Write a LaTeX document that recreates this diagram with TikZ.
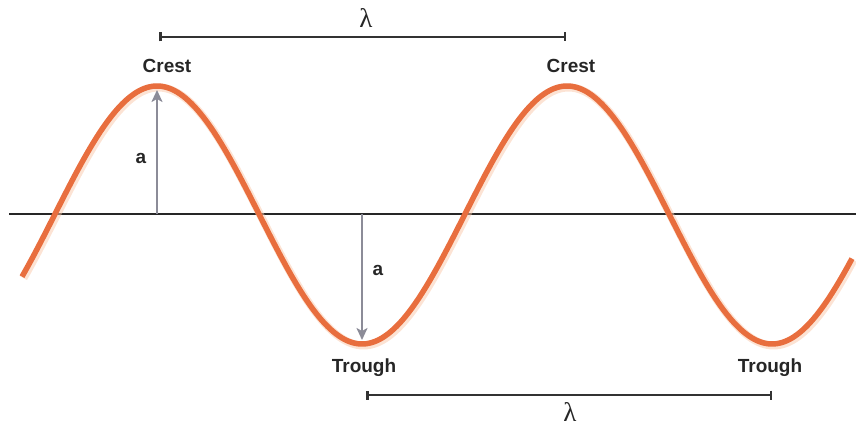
\documentclass[tikz,border=0pt]{standalone}
\usepackage{fontspec}
\setmainfont{Liberation Sans}
\newfontfamily\lamfont{Liberation Serif}
\usetikzlibrary{arrows.meta}
\definecolor{waveorange}{RGB}{232,110,62}
\definecolor{waveglow}{RGB}{250,200,170}
\definecolor{arrowgray}{RGB}{140,140,152}
\tikzset{
  lbl/.style={font=\fontsize{19}{22}\selectfont\bfseries, text=black!85, inner sep=0pt},
  lam/.style={font=\fontsize{27}{30}\lamfont, text=black!85, inner sep=0pt},
  ampl/.style={draw=arrowgray, line width=2.4pt, -{Stealth[length=12pt,width=11pt,inset=3pt]}},
  wavebar/.style={draw=black!80, line width=2pt, {Bar[width=9pt,line width=2.5pt]}-{Bar[width=9pt,line width=2.5pt]}},
}
\begin{document}
\begin{tikzpicture}[x=1pt,y=-1pt]
\useasboundingbox (0,0) rectangle (856,427);
% axis
\coordinate (axL) at (9,214);
\coordinate (axR) at (856,214);
\draw[line width=1.5pt, black!85] (axL) -- (axR);
% wave
\draw[waveglow, line width=8pt, opacity=0.5] plot[domain=22:852, samples=300, smooth] (\x+1.5,{216.5-129*cos((\x-157)/410*360)});
\draw[waveorange, line width=5.5pt] plot[domain=22:852, samples=300, smooth] (\x,{215-129*cos((\x-157)/410*360)});
% key points
\coordinate (crest1) at (157,90);
\coordinate (trough1) at (362,340);
\coordinate (base1) at (157,214);
\coordinate (base2) at (362,214);
% amplitude arrows
\draw[ampl] (base1) -- (crest1);
\draw[ampl] (base2) -- (trough1);
\node[lbl] (a1) at (141,158) {a};
\node[lbl] (a2) at (378,270) {a};
% labels
\node[lbl] (c1) at (167,66) {Crest};
\node[lbl] (c2) at (571,66) {Crest};
\node[lbl] (t1) at (364,368) {Trough};
\node[lbl] (t2) at (770,368) {Trough};
% wavelength bars
\coordinate (tb1) at (159,37);
\coordinate (tb2) at (566,37);
\coordinate (bb1) at (366,395);
\coordinate (bb2) at (772,395);
\draw[wavebar] (tb1) -- (tb2);
\draw[wavebar] (bb1) -- (bb2);
\node[lam] (l1) at (366,18) {λ};
\node[lam] (l2) at (570,412) {λ};
\end{tikzpicture}
\end{document}
